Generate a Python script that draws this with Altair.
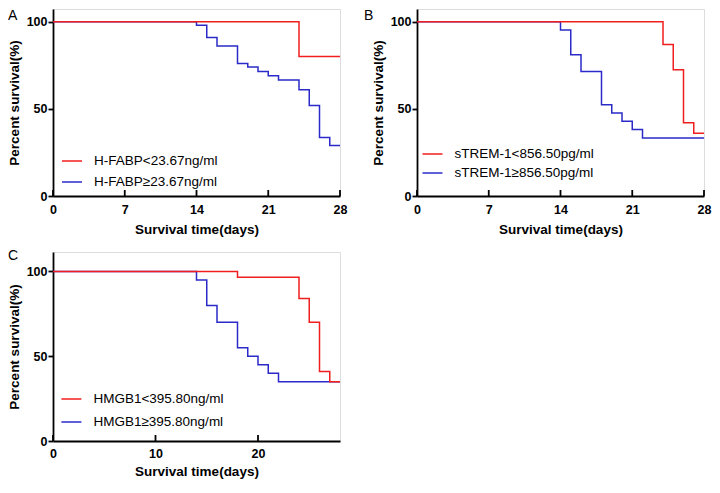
import altair as alt
import pandas as pd

RED = "#f01e1e"
BLUE = "#2a2ac8"
FONT = "Liberation Sans"

# Panel A
a_labels = ["H-FABP<23.67ng/ml", "H-FABP≥23.67ng/ml"]
a_red_t = [0, 24, 28]
a_red_s = [100, 80, 80]
a_blue_t = [0, 14, 15, 16, 18, 19, 20, 21, 22, 24, 25, 26, 27, 28]
a_blue_s = [100, 98, 91, 86, 76, 74, 71.5, 69, 66.5, 61, 52, 33.5, 29, 29]
a_xticks = [0, 7, 14, 21, 28]

# Panel B
b_labels = ["sTREM-1<856.50pg/ml", "sTREM-1≥856.50pg/ml"]
b_red_t = [0, 24, 25, 26, 27, 28]
b_red_s = [100, 87, 72.5, 42, 36, 36]
b_blue_t = [0, 14, 15, 16, 18, 19, 20, 21, 22, 28]
b_blue_s = [100, 95.2, 81, 71.4, 52.4, 47.6, 42.9, 38.1, 33.3, 33.3]
b_xticks = [0, 7, 14, 21, 28]

# Panel C
c_labels = ["HMGB1<395.80ng/ml", "HMGB1≥395.80ng/ml"]
c_red_t = [0, 18, 24, 25, 26, 27, 28]
c_red_s = [100, 96.6, 84, 70, 41, 35, 35]
c_blue_t = [0, 14, 15, 16, 18, 19, 20, 21, 22, 28]
c_blue_s = [100, 95, 80, 70, 55, 50, 45, 40, 35, 35]
c_xticks = [0, 10, 20]

y_ticks = [0, 50, 100]


def panel(letter, labels, red_t, red_s, blue_t, blue_s, xticks, ymax, height,
          legend_x, legend_y, row_pad, letter_x, letter_y, label_pad, title_pad):
    df = pd.concat([
        pd.DataFrame({"t": blue_t, "s": blue_s, "g": labels[1]}),
        pd.DataFrame({"t": red_t, "s": red_s, "g": labels[0]}),
    ])
    xscale = alt.Scale(domain=[0, 28], nice=False, zero=False)
    yscale = alt.Scale(domain=[0, ymax], nice=False)
    xaxis = alt.Axis(values=xticks, ticks=False, domainWidth=1.8, domainColor="black",
                     labelFont=FONT, labelFontWeight="bold", labelFontSize=12.5,
                     labelColor="black", labelPadding=label_pad, labelFlush=False,
                     title="Survival time(days)", titleFont=FONT, titleFontSize=13.5,
                     titleFontWeight="bold", titleColor="black", titlePadding=title_pad,
                     grid=False, format="d")
    yaxis = alt.Axis(values=y_ticks, tickSize=5, tickWidth=1.8, tickColor="black",
                     domainWidth=1.8, domainColor="black",
                     labelFont=FONT, labelFontWeight="bold", labelFontSize=12.5,
                     labelColor="black", labelPadding=1, labelFlush=False,
                     title="Percent survival(%)", titleFont=FONT, titleFontSize=13.5,
                     titleFontWeight="bold", titleColor="black", titlePadding=5,
                     grid=False, format="d")
    color = alt.Color(
        "g:N",
        scale=alt.Scale(domain=labels, range=[RED, BLUE]),
        title=None,
        legend=alt.Legend(orient="none", legendX=legend_x, legendY=legend_y,
                          symbolType="stroke", symbolSize=400, symbolStrokeWidth=1.5,
                          labelFont=FONT, labelFontSize=13.5, labelColor="black",
                          labelOffset=11, rowPadding=row_pad, padding=0, labelLimit=400),
    )
    base = alt.Chart(df)
    blue_line = base.transform_filter(alt.datum.g == labels[1]).mark_line(
        interpolate="step-after", strokeWidth=1.5
    ).encode(x=alt.X("t:Q", scale=xscale, axis=xaxis),
             y=alt.Y("s:Q", scale=yscale, axis=yaxis), color=color)
    red_line = base.transform_filter(alt.datum.g == labels[0]).mark_line(
        interpolate="step-after", strokeWidth=1.5
    ).encode(x=alt.X("t:Q", scale=xscale, axis=xaxis),
             y=alt.Y("s:Q", scale=yscale, axis=yaxis), color=color)
    ticks = alt.Chart(pd.DataFrame({"t": xticks})).mark_rule(
        color="black", strokeWidth=1.8
    ).encode(x=alt.X("t:Q", scale=xscale, axis=xaxis),
             y=alt.value(height), y2=alt.value(height - 6))
    letter_text = alt.Chart(pd.DataFrame({"txt": [letter]})).mark_text(
        align="left", baseline="top", fontSize=14, font=FONT, color="black"
    ).encode(x=alt.value(letter_x), y=alt.value(letter_y), text="txt:N")
    return alt.layer(blue_line, red_line, ticks, letter_text).properties(
        width=287, height=height)


pa = panel("A", a_labels, a_red_t, a_red_s, a_blue_t, a_blue_s, a_xticks,
           107.3, 187, 8, 141, 3, -45, 0, 7, 7)
pb = panel("B", b_labels, b_red_t, b_red_s, b_blue_t, b_blue_s, b_xticks,
           107.3, 187, 4.5, 134, 1, -53, 0, 7, 7)
pc = panel("C", c_labels, c_red_t, c_red_s, c_blue_t, c_blue_s, c_xticks,
           111.5, 189, 7.4, 136, 5, -45, -3, 6, 5)

chart = alt.concat(pa, pb, pc, columns=2, spacing={"row": 56, "column": 77},
                   bounds="flush").resolve_scale(
    color="independent"
).properties(padding={"left": -2, "top": 0, "right": 0, "bottom": 0}).configure_view(
    stroke=None
).configure(background="white")

chart.save("out.html", embed_options={"renderer": "svg", "actions": False})
